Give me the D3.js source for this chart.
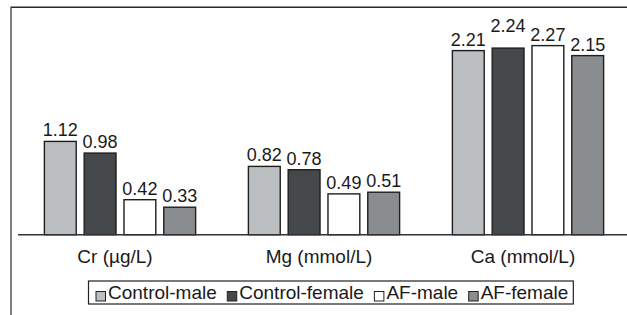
<!DOCTYPE html>
<html>
<head>
<meta charset="utf-8">
<script src="https://cdn.jsdelivr.net/npm/d3@7"></script>
<style>
  body { margin: 0; background: #fff; }
  text { font-family: "Liberation Sans", Arial, Helvetica, sans-serif; fill: #1a1a1a; }
</style>
</head>
<body>
<div id="chart"></div>
<script>
const categories = ['Cr (\u00b5g/L)', 'Mg (mmol/L)', 'Ca (mmol/L)'];
const seriesNames = ['Control-male', 'Control-female', 'AF-male', 'AF-female'];
const controlMale = [1.12, 0.82, 2.21];
const controlFemale = [0.98, 0.78, 2.24];
const afMale = [0.42, 0.49, 2.27];
const afFemale = [0.33, 0.51, 2.15];
const seriesColors = ['#bcbfc1', '#45484a', '#ffffff', '#8a8d8f'];

const W = 627, H = 315;
const seriesValues = [controlMale, controlFemale, afMale, afFemale];
const rows = categories.map((c, i) => ({
  cat: c,
  vals: seriesNames.map((s, j) => ({ key: s, value: seriesValues[j][i], color: seriesColors[j] }))
}));

// the Ca control-female label sits higher so it clears its neighbours
const labelGap = d => (d.key === 'Control-female' && d.value > 2 ? 16 : 5);

const svg = d3.select('#chart').append('svg')
  .attr('width', W).attr('height', H);

const baseY = 234.7;
const x0 = d3.scaleBand().domain(categories).range([18, 630]).paddingInner(0);
const x1 = d3.scaleBand().domain(seriesNames)
  .range([24, x0.bandwidth() - 24]).paddingInner(0.2).paddingOuter(0.06);
const y = d3.scaleLinear().domain([0, 2.73]).range([baseY, 7.3]);

// frame: top and left lines
svg.append('line').attr('x1', 11).attr('x2', W).attr('y1', 7.3).attr('y2', 7.3)
  .attr('stroke', '#2a2a2a').attr('stroke-width', 1.5);
svg.append('line').attr('x1', 11).attr('x2', 11).attr('y1', 6.6).attr('y2', H)
  .attr('stroke', '#555').attr('stroke-width', 1.5);

const groups = svg.selectAll('.grp').data(rows).join('g')
  .attr('class', 'grp')
  .attr('transform', d => `translate(${x0(d.cat)},0)`);

groups.selectAll('rect').data(d => d.vals).join('rect')
  .attr('x', d => x1(d.key))
  .attr('y', d => y(d.value))
  .attr('width', x1.bandwidth())
  .attr('height', d => baseY - y(d.value))
  .attr('fill', d => d.color)
  .attr('stroke', '#1e1e1e')
  .attr('stroke-width', 1.4);

groups.selectAll('.val').data(d => d.vals).join('text')
  .attr('class', 'val')
  .attr('x', d => x1(d.key) + x1.bandwidth() / 2)
  .attr('y', d => y(d.value) - labelGap(d))
  .attr('text-anchor', 'middle')
  .style('font-size', '18px')
  .text(d => d.value.toFixed(2));

// baseline
svg.append('line').attr('x1', 18).attr('x2', W).attr('y1', baseY).attr('y2', baseY)
  .attr('stroke', '#333').attr('stroke-width', 1.5);

// category labels
svg.selectAll('.cat').data(categories).join('text')
  .attr('class', 'cat')
  .attr('x', d => x0(d) + x0.bandwidth() / 2 - 5)
  .attr('y', 263)
  .attr('text-anchor', 'middle')
  .style('font-size', '19px')
  .text(d => d);

// legend
const legend = svg.append('g');
const legBox = legend.append('rect')
  .attr('fill', '#fff').attr('stroke', '#222').attr('stroke-width', 1.2);
let lx = 96;
seriesNames.forEach((name, i) => {
  legend.append('rect')
    .attr('x', lx).attr('y', 291.5).attr('width', 9.5).attr('height', 9.5)
    .attr('fill', seriesColors[i]).attr('stroke', '#222').attr('stroke-width', 1);
  const t = legend.append('text')
    .attr('x', lx + 12).attr('y', 299)
    .style('font-size', '19px')
    .text(name);
  lx += 12 + t.node().getComputedTextLength() + 10.5;
});
legBox.attr('x', 88.5).attr('y', 281).attr('width', lx - 10.5 + 5 - 88.5).attr('height', 23);
</script>
</body>
</html>
